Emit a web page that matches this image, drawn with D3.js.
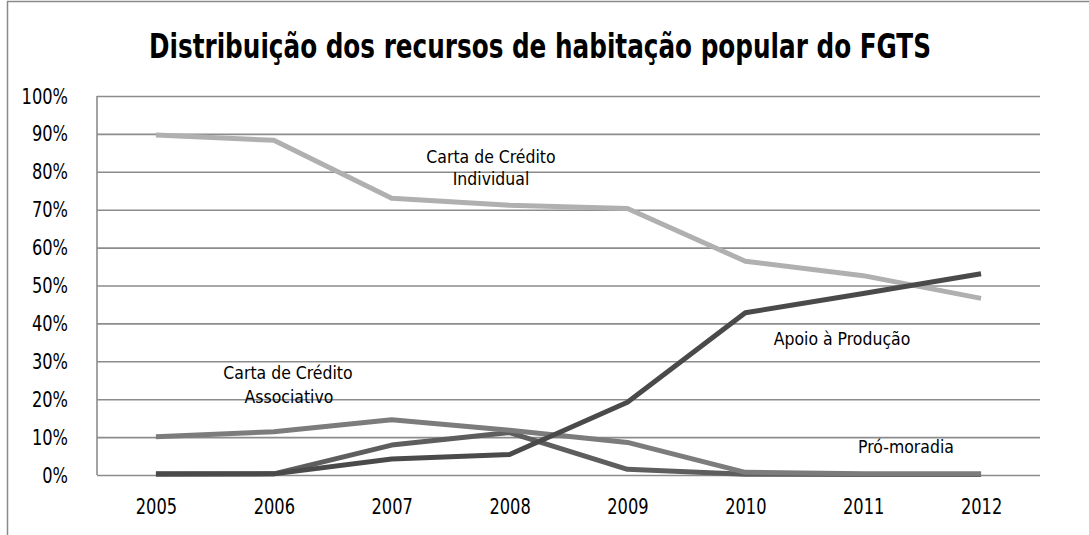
<!DOCTYPE html>
<html><head><meta charset="utf-8">
<script src="https://cdn.jsdelivr.net/npm/d3@7"></script>
<style>html,body{margin:0;padding:0;background:#fff;}svg{display:block;}</style>
</head><body>
<svg id="c" width="1089" height="535"></svg>
<script>
const years = ["2005","2006","2007","2008","2009","2010","2011","2012"];
const yTicks = [0,10,20,30,40,50,60,70,80,90,100];
const individual  = [89.7, 88.3, 73.0, 71.2, 70.3, 56.4, 52.6, 46.6];
const associativo = [10.1, 11.4, 14.6, 11.8, 8.6, 0.7, 0.3, 0.3];
const promoradia  = [0.2, 0.3, 7.9, 11.2, 1.5, 0.2, 0.1, 0.1];
const apoio       = [0.3, 0.3, 4.2, 5.4, 19.2, 42.8, 47.9, 53.1];
const seriesNames = ["Carta de Crédito Individual","Pró-moradia","Carta de Crédito Associativo","Apoio à Produção"];
const title = "Distribuição dos recursos de habitação popular do FGTS";

const svg = d3.select("#c");
const font = "'DejaVu Sans Condensed', 'DejaVu Sans', sans-serif";
const L = 97, R = 1040, T = 96, B = 475;
const x = d3.scalePoint().domain(years).range([L, R]).padding(0.5);
const y = d3.scaleLinear().domain([0, 100]).range([B, T]);

function squeeze(sel, f) {
  sel.each(function() {
    const w = this.getComputedTextLength();
    d3.select(this).attr("textLength", w * f).attr("lengthAdjust", "spacingAndGlyphs");
  });
}

// chart border
svg.append("path").attr("d", "M7.5,535 V1.5 H1089").attr("fill","none").attr("stroke","#8a8a8a").attr("stroke-width",1.5);

// title
svg.append("text").attr("x", 540).attr("y", 58).attr("text-anchor","middle")
  .attr("font-family", font).attr("font-weight","bold").attr("font-size", 33)
  .attr("textLength", 782).attr("lengthAdjust","spacingAndGlyphs").attr("fill","#000").text(title);

// gridlines + y labels
const yAxis = d3.axisLeft(y).tickValues(yTicks).tickSize(-(R - L)).tickFormat(d => d + "%").tickPadding(29);
const ga = svg.append("g").attr("transform", `translate(${L},0)`).call(yAxis);
ga.select(".domain").remove();
ga.selectAll(".tick line").attr("stroke","#8c8c8c").attr("stroke-width",1.6);
ga.selectAll(".tick text").attr("font-family", font).attr("font-size", 22).attr("fill","#000").call(squeeze, 0.82);
svg.append("line").attr("x1",L).attr("x2",L).attr("y1",T).attr("y2",B).attr("stroke","#8c8c8c").attr("stroke-width",1.6);

const xAxis = d3.axisBottom(x).tickSize(0).tickPadding(23);
const gx = svg.append("g").attr("transform", `translate(0,${B})`).call(xAxis);
gx.select(".domain").remove();
gx.selectAll(".tick text").attr("font-family", font).attr("font-size", 22).attr("fill","#000").call(squeeze, 0.82);

const line = d3.line().x((d,i) => x(years[i])).y(d => y(d));
const series = [
  {v: individual, c: "#b0b0b0"},
  {v: promoradia, c: "#5e5e5e"},
  {v: associativo, c: "#7c7c7c"},
  {v: apoio, c: "#4a4a4a"}
];
svg.selectAll("path.s").data(series).enter().append("path").attr("class","s")
  .attr("d", d => line(d.v)).attr("fill","none").attr("stroke", d => d.c)
  .attr("stroke-width", 5).attr("stroke-linejoin","round").attr("stroke-linecap","butt");

// annotations
const ann = [
  {t:"Carta de Crédito", x: 491, y: 163},
  {t:"Individual", x: 491, y: 185},
  {t:"Carta de Crédito", x: 288, y: 379},
  {t:"Associativo", x: 289, y: 403},
  {t:"Apoio à Produção", x: 842, y: 345},
  {t:"Pró-moradia", x: 906, y: 453}
];
svg.selectAll("text.a").data(ann).enter().append("text").attr("class","a")
  .attr("x", d => d.x).attr("y", d => d.y).attr("text-anchor","middle")
  .attr("font-family", font).attr("font-size", 18).attr("fill","#000").text(d => d.t)
  .call(squeeze, 0.97);
</script>
</body></html>
